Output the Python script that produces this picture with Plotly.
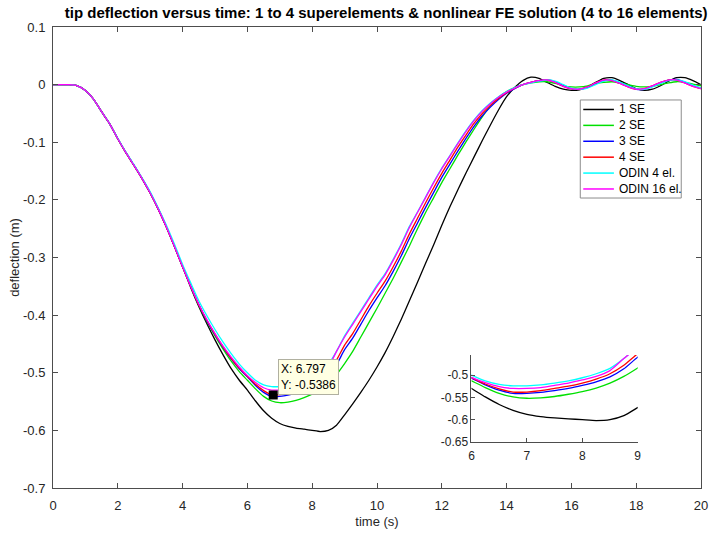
import plotly.graph_objects as go

# time axis (s)
time = [i * 0.25 for i in range(81)]

# tip deflection (m) for each model
se1 = [0, 0, 0, -0.002, -0.010, -0.025, -0.047, -0.068, -0.094, -0.118, -0.140, -0.163,
       -0.188, -0.216, -0.247, -0.281, -0.316, -0.352, -0.385, -0.415, -0.443, -0.469,
       -0.493, -0.513, -0.530, -0.549, -0.566, -0.579, -0.588, -0.593, -0.596, -0.598,
       -0.600, -0.602, -0.600, -0.591, -0.573, -0.554, -0.534, -0.513, -0.490, -0.465,
       -0.437, -0.407, -0.375, -0.343, -0.310, -0.278, -0.244, -0.212, -0.182, -0.153,
       -0.125, -0.097, -0.070, -0.044, -0.021, -0.005, 0.007, 0.013, 0.011, 0.004,
       -0.003, -0.008, -0.010, -0.009, -0.004, 0.004, 0.011, 0.012, 0.007, 0.000,
       -0.007, -0.010, -0.008, -0.002, 0.006, 0.012, 0.012, 0.007, 0.000]

se2 = [0, 0, 0, -0.002, -0.010, -0.025, -0.047, -0.068, -0.094, -0.118, -0.140, -0.163,
       -0.188, -0.216, -0.247, -0.281, -0.316, -0.350, -0.383, -0.411, -0.436, -0.459,
       -0.480, -0.498, -0.513, -0.528, -0.541, -0.549, -0.552, -0.551, -0.548, -0.543,
       -0.537, -0.529, -0.518, -0.503, -0.484, -0.463, -0.438, -0.413, -0.388, -0.362,
       -0.336, -0.308, -0.280, -0.250, -0.222, -0.196, -0.170, -0.146, -0.122, -0.099,
       -0.077, -0.056, -0.037, -0.022, -0.012, -0.005, 0.000, 0.003, 0.005, 0.005,
       0.002, -0.002, -0.004, -0.004, -0.002, 0.002, 0.004, 0.005, 0.003, 0.000,
       -0.003, -0.004, -0.003, 0.000, 0.003, 0.005, 0.004, 0.001, -0.002]

se3 = [0, 0, 0, -0.002, -0.010, -0.025, -0.047, -0.068, -0.094, -0.118, -0.140, -0.163,
       -0.188, -0.216, -0.247, -0.281, -0.316, -0.350, -0.382, -0.410, -0.434, -0.456,
       -0.476, -0.493, -0.507, -0.522, -0.534, -0.541, -0.541, -0.539, -0.535, -0.530,
       -0.523, -0.515, -0.504, -0.486, -0.460, -0.440, -0.416, -0.392, -0.370, -0.349,
       -0.324, -0.297, -0.267, -0.240, -0.213, -0.187, -0.161, -0.138, -0.115, -0.093,
       -0.072, -0.054, -0.039, -0.026, -0.015, -0.007, 0.000, 0.004, 0.007, 0.008,
       0.005, -0.002, -0.007, -0.008, -0.005, 0.002, 0.007, 0.008, 0.003, -0.003,
       -0.008, -0.008, -0.003, 0.003, 0.008, 0.009, 0.004, -0.002, -0.006]

se4 = [0, 0, 0, -0.002, -0.010, -0.025, -0.047, -0.068, -0.094, -0.118, -0.140, -0.163,
       -0.188, -0.216, -0.247, -0.281, -0.316, -0.350, -0.382, -0.409, -0.433, -0.455,
       -0.475, -0.492, -0.506, -0.520, -0.531, -0.538, -0.538, -0.535, -0.530, -0.525,
       -0.518, -0.509, -0.497, -0.478, -0.452, -0.432, -0.408, -0.384, -0.362, -0.341,
       -0.316, -0.289, -0.259, -0.232, -0.205, -0.179, -0.154, -0.131, -0.108, -0.087,
       -0.067, -0.050, -0.036, -0.024, -0.014, -0.006, 0.000, 0.004, 0.007, 0.008,
       0.004, -0.003, -0.007, -0.008, -0.004, 0.003, 0.008, 0.007, 0.002, -0.004,
       -0.008, -0.007, -0.002, 0.004, 0.008, 0.008, 0.003, -0.003, -0.007]

odin4 = [0, 0, 0, -0.002, -0.010, -0.025, -0.047, -0.068, -0.093, -0.117, -0.139, -0.162,
         -0.186, -0.214, -0.244, -0.277, -0.312, -0.344, -0.375, -0.401, -0.425, -0.447,
         -0.467, -0.485, -0.500, -0.513, -0.521, -0.524, -0.524, -0.522, -0.518, -0.513,
         -0.506, -0.497, -0.485, -0.463, -0.436, -0.414, -0.392, -0.370, -0.348, -0.328,
         -0.303, -0.276, -0.246, -0.221, -0.195, -0.169, -0.145, -0.123, -0.101, -0.080,
         -0.061, -0.045, -0.032, -0.021, -0.012, -0.005, 0.000, 0.003, 0.006, 0.008,
         0.006, 0.000, -0.006, -0.008, -0.006, 0.000, 0.006, 0.008, 0.004, -0.002,
         -0.007, -0.008, -0.004, 0.002, 0.007, 0.008, 0.005, -0.001, -0.006]

odin16 = [0, 0, 0, -0.002, -0.010, -0.025, -0.047, -0.068, -0.094, -0.118, -0.140, -0.163,
          -0.188, -0.216, -0.247, -0.281, -0.316, -0.350, -0.381, -0.408, -0.432, -0.454,
          -0.473, -0.490, -0.505, -0.517, -0.526, -0.530, -0.530, -0.528, -0.523, -0.518,
          -0.511, -0.503, -0.490, -0.463, -0.438, -0.416, -0.394, -0.372, -0.350, -0.330,
          -0.305, -0.278, -0.248, -0.222, -0.196, -0.170, -0.146, -0.124, -0.102, -0.081,
          -0.062, -0.046, -0.033, -0.022, -0.013, -0.006, 0.000, 0.004, 0.007, 0.008,
          0.004, -0.003, -0.007, -0.008, -0.004, 0.003, 0.008, 0.007, 0.002, -0.004,
          -0.008, -0.007, -0.002, 0.004, 0.008, 0.008, 0.003, -0.003, -0.007]

series_names = ["1 SE", "2 SE", "3 SE", "4 SE", "ODIN 4 el.", "ODIN 16 el."]
series_values = [se1, se2, se3, se4, odin4, odin16]
series_colors = ["#000000", "#00e000", "#0000ff", "#ff0000", "#00ffff", "#ff00ff"]

# data tip
tip_x, tip_y = 6.797, -0.5386

y_ticks = [0.1, 0, -0.1, -0.2, -0.3, -0.4, -0.5, -0.6, -0.7]
y_ticklabels = ["0.1", "0", "-0.1", "-0.2", "-0.3", "-0.4", "-0.5", "-0.6", "-0.7"]
x_ticks = list(range(0, 21, 2))
inset_y_ticks = [-0.5, -0.55, -0.6, -0.65]
inset_y_labels = ["-0.5", "-0.55", "-0.6", "-0.65"]
inset_x_ticks = [6, 7, 8, 9]

FONT = "Liberation Sans, Arial, sans-serif"
AX = "#4d4d4d"

fig = go.Figure()

for name, vals, col in zip(series_names, series_values, series_colors):
    fig.add_trace(go.Scatter(x=time, y=vals, mode="lines", name=name, showlegend=False,
                             line=dict(color=col, width=1.3, shape="spline", smoothing=0.6),
                             xaxis="x", yaxis="y"))

for name, vals, col in zip(series_names, series_values, series_colors):
    fig.add_trace(go.Scatter(x=time, y=vals, mode="lines", name=name, showlegend=False,
                             line=dict(color=col, width=1.3, shape="spline", smoothing=0.6),
                             xaxis="x2", yaxis="y2"))

fig.add_trace(go.Scatter(x=[tip_x], y=[tip_y], mode="markers", showlegend=False,
                         marker=dict(symbol="square", size=9, color="black"),
                         xaxis="x", yaxis="y"))

fig.add_annotation(x=6.93, y=-0.476, xref="x", yref="y", xanchor="left", yanchor="top",
                   text=f"X: {tip_x}<br>Y: {tip_y}", showarrow=False, align="left",
                   font=dict(family=FONT, size=12, color="black"),
                   bgcolor="#ffffe3", bordercolor="#b0b0a0", borderwidth=1, borderpad=2)

# legend box drawn in plot-area (paper) coordinates
leg_x0, leg_x1, leg_y0, leg_y1 = 0.8137, 0.9695, 0.629, 0.8417
fig.add_shape(type="rect", xref="paper", yref="paper", x0=leg_x0, x1=leg_x1,
              y0=leg_y0, y1=leg_y1, line=dict(color="#8c8c8c", width=1),
              fillcolor="white", layer="above")
row_h = 15.9 / 461
first_row = leg_y1 - 9.5 / 461
for i, (name, col) in enumerate(zip(series_names, series_colors)):
    yy = first_row - i * row_h
    fig.add_shape(type="line", xref="paper", yref="paper", x0=0.8183, x1=0.8656,
                  y0=yy, y1=yy, line=dict(color=col, width=1.5), layer="above")
    fig.add_annotation(x=0.8702, y=yy, xref="paper", yref="paper", xanchor="left",
                       yanchor="middle", text=name, showarrow=False,
                       font=dict(family=FONT, size=12, color="black"))

fig.update_layout(
    width=712, height=535,
    margin=dict(l=53, r=4, t=27, b=47),
    paper_bgcolor="white", plot_bgcolor="white",
    font=dict(family=FONT, size=12, color="#262626"),
    title=dict(text="<b>tip deflection versus time: 1 to 4 superelements &amp; nonlinear FE solution (4 to 16 elements)</b>",
               x=0.5424, xanchor="center", y=0.9757, yanchor="middle",
               font=dict(family=FONT, size=15, color="black")),
    xaxis=dict(domain=[0, 1], range=[0, 20], tickvals=x_ticks, ticks="inside", ticklen=5,
               showline=True, linecolor=AX, mirror="allticks", showgrid=False, zeroline=False,
               tickcolor=AX, ticklabelstandoff=5, tickfont=dict(size=13),
               title=dict(text="time (s)", font=dict(size=13), standoff=5)),
    yaxis=dict(domain=[0, 1], range=[-0.7, 0.1], tickvals=y_ticks, ticktext=y_ticklabels,
               ticks="inside", ticklen=5, showline=True, linecolor=AX, mirror="allticks",
               showgrid=False, zeroline=False, tickcolor=AX, tickfont=dict(size=13),
               ticklabelstandoff=4,
               title=dict(text="deflection (m)", font=dict(size=13), standoff=0)),
    xaxis2=dict(domain=[0.6458, 0.9023], anchor="y2", range=[6, 9], tickvals=inset_x_ticks,
                ticks="inside", ticklen=4, showline=True, linecolor=AX, showgrid=False,
                zeroline=False, tickcolor=AX, tickfont=dict(size=12), ticklabelstandoff=3),
    yaxis2=dict(domain=[0.0998, 0.2885], anchor="x2", range=[-0.65, -0.455],
                tickvals=inset_y_ticks, ticktext=inset_y_labels, ticks="inside", ticklen=4,
                showline=True, linecolor=AX, showgrid=False, zeroline=False, tickcolor=AX,
                tickfont=dict(size=12)),
    showlegend=False,
)

fig.write_html("out.html")
